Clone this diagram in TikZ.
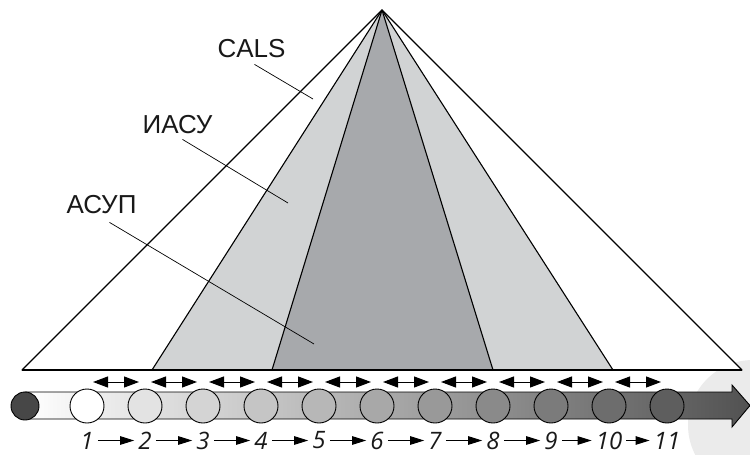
\documentclass[tikz,border=0pt]{standalone}
\usepackage{fontspec}
\setmainfont{Liberation Sans}
\newfontfamily\digitfont{Open Sans}
\usetikzlibrary{arrows.meta,calc}
\definecolor{lgray}{HTML}{D1D3D4}
\definecolor{dgray}{HTML}{A7A9AC}
\definecolor{wmark}{HTML}{EBEBEB}
\begin{document}
\begin{tikzpicture}[x=1pt,y=-1pt,
  edge/.style={line width=1.1pt,line join=round},
  leader/.style={line width=0.7pt},
  lbl/.style={font=\fontsize{26}{30}\selectfont,inner sep=0pt,text=black!90},
  stage/.style={circle,draw=black,line width=0.9pt,minimum size=34pt,inner sep=0pt},
  num/.style={font=\digitfont\fontsize{24}{26}\selectfont\itshape,inner sep=0pt,text=black!90},
  dbl/.style={line width=1pt,{Triangle[length=15pt,width=11pt]}-{Triangle[length=15pt,width=11pt]}},
  seq/.style={line width=1pt,-{Triangle[length=14pt,width=8.5pt]},shorten <=4pt,shorten >=4pt}]
\useasboundingbox (0,0) rectangle (750,455);
% watermark
\begin{scope}
  \clip (0,0) rectangle (750,455);
  \fill[wmark] (753,425) circle (65);
\end{scope}
% pyramid
\coordinate (apex) at (382,10);
\coordinate (oL) at (22,370);
\coordinate (oR) at (742,370);
\coordinate (mL) at (152,370);
\coordinate (mR) at (613,370);
\coordinate (iL) at (272,370);
\coordinate (iR) at (493,370);
\filldraw[edge,fill=white] (oL) -- (apex) -- (oR) -- cycle;
\filldraw[edge,fill=lgray] (mL) -- (apex) -- (mR) -- cycle;
\filldraw[edge,fill=dgray] (iL) -- (apex) -- (iR) -- cycle;
\draw[edge] (oL) -- (oR);
% labels
\node[lbl] (cals) at (251.5,49) {CALS};
\node[lbl] (iasu) at (177.5,125) {ИАСУ};
\node[lbl] (asup) at (101.5,205) {АСУП};
\coordinate (pcals) at (313,99);
\coordinate (piasu) at (288,203);
\coordinate (pasup) at (314,344);
\draw[leader] ($(cals.south)+(3,6)$) -- (pcals);
\draw[leader] ($(iasu.south)+(5,5)$) -- (piasu);
\draw[leader] ($(asup.south)+(8,8)$) -- (pasup);
% process arrow
\shade[left color=white,right color=black!68,draw=black,line width=0.9pt]
  (25,392) -- (732,392) -- (732,385) -- (750,405.5) -- (732,427) -- (732,419) -- (25,419) -- cycle;
\node[stage,fill=black!72,minimum size=28pt] (c0) at (25,406) {};
\foreach \i in {1,...,11}{
  \pgfmathsetmacro{\shadeval}{\i==1 ? 0 : 11+(\i-2)*5.8}
  \node[stage,fill=black!\shadeval] (c\i) at ({87+58*(\i-1)},406) {};
  \node[num] (n\i) at ({87+58*(\i-1)},440.5) {\i};
}
\foreach \i [evaluate=\i as \j using int(\i+1)] in {1,...,10}{
  \coordinate (dl\i) at ($(c\i)!0.5!(c\j)+(-23,-24)$);
  \coordinate (dr\i) at ($(c\i)!0.5!(c\j)+(23,-24)$);
  \draw[dbl] (dl\i) -- (dr\i);
  \draw[seq] (n\i) -- (n\j);
}
\end{tikzpicture}
\end{document}
